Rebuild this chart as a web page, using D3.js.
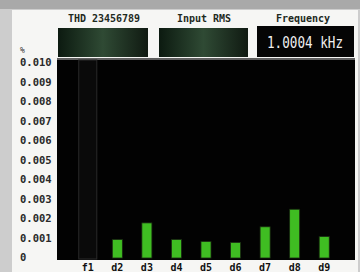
<!DOCTYPE html>
<html>
<head>
<meta charset="utf-8">
<script src="https://cdn.jsdelivr.net/npm/d3@7"></script>
<style>
body { margin: 0; background: #cfcfcf; }
text { font-family: "DejaVu Sans Mono", monospace; }
</style>
</head>
<body>
<div id="container"></div>
<script>
// harmonic labels and THD values in %
var harmonics = ["f1", "d2", "d3", "d4", "d5", "d6", "d7", "d8", "d9"]
var levels = [0.0105, 0.00095, 0.0018, 0.00095, 0.00085, 0.0008, 0.0016, 0.0025, 0.0011]
var yTicks = [0, 0.001, 0.002, 0.003, 0.004, 0.005, 0.006, 0.007, 0.008, 0.009, 0.010]
var headers = ["THD 23456789", "Input RMS", "Frequency"]
var freqText = "1.0004 kHz"

width = 360;
height = 272;

var svg = d3.select("#container").append('svg')
    .attr('width', width)
    .attr('height', height)

// window chrome
svg.append("rect").attr("x", 0).attr("y", 0).attr("width", width).attr("height", height).attr("fill", "#cdcdcd")
svg.append("rect").attr("x", 0).attr("y", 0).attr("width", width).attr("height", 9).attr("fill", "#a9a9a9")
svg.append("rect").attr("x", 12).attr("y", 10).attr("width", 346).attr("height", 262).attr("fill", "#f6f6f4")

// header labels + readout boxes
var boxX = [58, 158, 257]
svg.selectAll(".hdr").data(headers).enter().append("text")
    .attr("class", "hdr")
    .attr("x", (d, i) => boxX[i] + 46)
    .attr("y", 22)
    .attr("text-anchor", "middle")
    .attr("font-size", 10)
    .attr("font-family", "Liberation Mono, monospace")
    .attr("font-weight", "bold")
    .attr("fill", "#1e2a1e")
    .text(d => d)

var grad = svg.append("defs").append("linearGradient").attr("id", "lcd").attr("x1", 0).attr("x2", 1)
grad.append("stop").attr("offset", "0%").attr("stop-color", "#0c1a10")
grad.append("stop").attr("offset", "50%").attr("stop-color", "#2f4a34")
grad.append("stop").attr("offset", "100%").attr("stop-color", "#101a12")

svg.append("rect").attr("x", 58).attr("y", 28).attr("width", 90).attr("height", 29).attr("fill", "url(#lcd)")
svg.append("rect").attr("x", 159).attr("y", 28).attr("width", 89).attr("height", 29).attr("fill", "url(#lcd)")
svg.append("rect").attr("x", 257).attr("y", 26).attr("width", 97).attr("height", 31).attr("fill", "#050505")
svg.append("text")
    .attr("x", 267).attr("y", 48)
    .attr("font-size", 15)
    .attr("font-family", "Liberation Sans, sans-serif")
    .attr("textLength", 76)
    .attr("lengthAdjust", "spacingAndGlyphs")
    .attr("fill", "#f0f0f0")
    .text(freqText)

// plot area
var plotL = 57, plotR = 355, plotT = 58, plotB = 260

svg.append("rect").attr("x", plotL).attr("y", plotT).attr("width", plotR - plotL).attr("height", plotB - plotT).attr("fill", "#020202")
svg.append("line").attr("x1", plotL).attr("x2", plotR).attr("y1", plotT + 1).attr("y2", plotT + 1).attr("stroke", "#bdbdbd").attr("stroke-width", 1)

var y = d3.scaleLinear().domain([0, 0.010]).range([258, 63])
var x = d3.scaleBand().domain(harmonics).range([73, 339]).paddingInner(0.66).paddingOuter(0.33)

// y tick labels
svg.selectAll(".ytick").data(yTicks).enter().append("text")
    .attr("class", "ytick")
    .attr("x", 20)
    .attr("y", d => y(d) + 3)
    .attr("font-size", 10.5)
    .attr("font-family", "Liberation Mono, monospace")
    .attr("font-weight", "bold")
    .attr("fill", "#2a2a2a")
    .text(d => d === 0 ? "0" : d3.format(".3f")(d))

svg.append("text").attr("x", 20).attr("y", 53).attr("font-size", 8).attr("fill", "#333").text("%")

// fundamental is off-scale: dim outline only
var f1 = levels.slice(0, 1)
svg.selectAll(".fund").data(f1).enter().append("rect")
    .attr("class", "fund")
    .attr("x", x("f1") - 4)
    .attr("y", y(0.010) - 3)
    .attr("width", x.bandwidth() + 8)
    .attr("height", d => y(0) - y(0.010) + 4)
    .attr("fill", "#0a0a0a")
    .attr("stroke", "#2a2a2a")
    .attr("stroke-width", 1)

// harmonic bars
var bars = harmonics.slice(1).map((h, i) => ({ h: h, v: levels[i + 1] }))

svg.selectAll(".bar").data(bars).enter().append("rect")
    .attr("class", "bar")
    .attr("x", d => x(d.h))
    .attr("y", d => y(d.v))
    .attr("width", x.bandwidth())
    .attr("height", d => y(0) - y(d.v))
    .attr("fill", "#3fbd22")
    .attr("stroke", "#1a2a12")
    .attr("stroke-width", 0.8)

// x labels
svg.selectAll(".xlab").data(harmonics).enter().append("text")
    .attr("class", "xlab")
    .attr("x", d => x(d) + x.bandwidth() / 2)
    .attr("y", 271)
    .attr("text-anchor", "middle")
    .attr("font-size", 10)
    .attr("font-family", "Liberation Mono, monospace")
    .attr("font-weight", "bold")
    .attr("fill", "#111")
    .text(d => d)
</script>
</body>
</html>
